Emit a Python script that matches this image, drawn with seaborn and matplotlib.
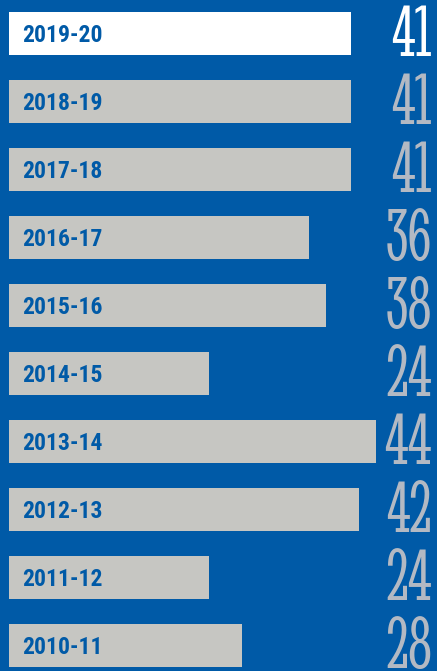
import pandas as pd
import numpy as np
import seaborn as sns
import matplotlib.pyplot as plt

# Data
seasons = ['2019-20', '2018-19', '2017-18', '2016-17', '2015-16',
           '2014-15', '2013-14', '2012-13', '2011-12', '2010-11']
values = [41, 41, 41, 36, 38, 24, 44, 42, 24, 28]

df = pd.DataFrame({'season': seasons, 'value': values})

blue = '#005AA7'
bar_colors = ['#FFFFFF'] + ['#C6C6C2'] * (len(seasons) - 1)
num_colors = ['#FFFFFF'] + ['#B3B9C3'] * (len(seasons) - 1)

sns.set_style('white')
plt.rcParams['font.family'] = ['Roboto Condensed', 'DejaVu Sans']

fig = plt.figure(figsize=(4.37, 6.71), dpi=100)
fig.patch.set_facecolor(blue)
ax = fig.add_axes([0, 0, 1, 1])
ax.set_facecolor(blue)

sns.barplot(data=df, x='value', y='season', hue='season', palette=bar_colors,
            legend=False, width=0.632, orient='h', ax=ax, saturation=1,
            linewidth=0)

px = 8.33  # pixels per unit
ax.set_xlim(-9 / px, (437 - 9) / px)
ax.set_ylim(9.375, -0.493)

for i, (s, v) in enumerate(zip(seasons, values)):
    ax.text(13 / px, i + 0.03, s, color=blue, fontsize=17, fontweight='bold',
            ha='left', va='center')
    ax.text((432 - 9) / px, i + 0.06, str(v), color=num_colors[i], fontsize=54,
            family=['Stint Ultra Condensed', 'DejaVu Sans'],
            ha='right', va='center')

ax.axis('off')
fig.savefig('out.png', dpi=100, facecolor=blue)
